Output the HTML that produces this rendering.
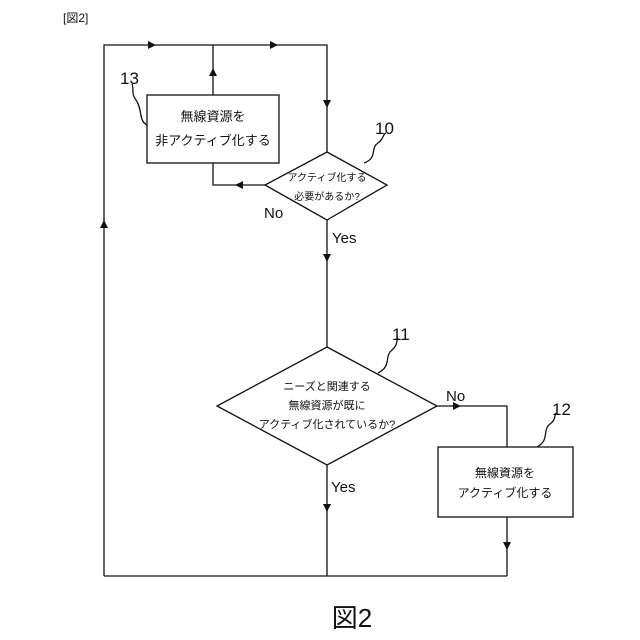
<!DOCTYPE html>
<html><head><meta charset="utf-8"><style>
html,body{margin:0;padding:0;background:#fff;}
svg{display:block;}
text{font-family:"Liberation Sans","Noto Sans CJK JP",sans-serif;fill:#111;}
</style></head><body>
<svg width="640" height="640" viewBox="0 0 640 640" xmlns="http://www.w3.org/2000/svg">
<defs>
<marker id="a" viewBox="0 0 10 10" refX="5" refY="5" markerWidth="9" markerHeight="9" orient="auto" markerUnits="userSpaceOnUse"><path d="M0,0 L10,5 L0,10 z" fill="#111"/></marker>
</defs>
<g stroke="#111" stroke-width="1.3" fill="none">
<!-- outer loop -->
<path d="M104,576 V45 H327 V152"/>
<path d="M104,576 H507"/>
<!-- box13 -->
<rect x="147" y="95" width="132" height="68" fill="#fff"/>
<path d="M213,95 V45"/>
<path d="M213,163 V185 H265"/>
<!-- diamond10 -->
<polygon points="327,152 387,185 327,220 265,185" fill="#fff"/>
<path d="M327,220 V347"/>
<!-- diamond11 -->
<polygon points="327,347 437,406 327,465 217,406" fill="#fff"/>
<path d="M437,406 H507 V447"/>
<path d="M327,465 V576"/>
<!-- box12 -->
<rect x="438" y="447" width="135" height="70" fill="#fff"/>
<path d="M507,517 V576"/>
<!-- leaders -->
<path d="M147,125 C138,120 143,110 136,100 C131,94 134,88 132,84"/>
<path d="M364,163 C378,158 370,148 378,143 C384,139 382,135 386,133"/>
<path d="M378,373 C392,366 384,356 392,350 C398,345 396,341 398,338"/>
<path d="M537,447 C550,440 542,430 550,424 C556,420 554,416 556,413"/>
</g>
<!-- arrowheads -->
<g fill="#111">
<path d="M156,45 l-8,-4 v8 z"/>
<path d="M278,45 l-8,-4 v8 z"/>
<path d="M213,68 l-4,8 h8 z"/>
<path d="M327,108 l-4,-8 h8 z"/>
<path d="M235,185 l8,-4 v8 z"/>
<path d="M327,262 l-4,-8 h8 z"/>
<path d="M461,406 l-8,-4 v8 z"/>
<path d="M327,512 l-4,-8 h8 z"/>
<path d="M507,550 l-4,-8 h8 z"/>
<path d="M104,220 l-4,8 h8 z"/>
</g>
<text x="63" y="22" font-size="12">[図2]</text>
<text x="120" y="84" font-size="17">13</text>
<text x="375" y="134" font-size="17">10</text>
<text x="392" y="340" font-size="17">11</text>
<text x="552" y="415" font-size="17">12</text>
<text x="213" y="121" font-size="13" text-anchor="middle">無線資源を</text>
<text x="213" y="145" font-size="13" text-anchor="middle">非アクティブ化する</text>
<text x="327" y="181" font-size="10" text-anchor="middle">アクティブ化する</text>
<text x="327" y="200" font-size="10" text-anchor="middle">必要があるか?</text>
<text x="327" y="390" font-size="11" text-anchor="middle">ニーズと関連する</text>
<text x="327" y="409" font-size="11" text-anchor="middle">無線資源が既に</text>
<text x="327" y="428" font-size="11" text-anchor="middle">アクティブ化されているか?</text>
<text x="505" y="477" font-size="12" text-anchor="middle">無線資源を</text>
<text x="505" y="497" font-size="12" text-anchor="middle">アクティブ化する</text>
<text x="264" y="218" font-size="15">No</text>
<text x="332" y="243" font-size="15">Yes</text>
<text x="446" y="401" font-size="15">No</text>
<text x="331" y="492" font-size="15">Yes</text>
<text x="352" y="627" font-size="26" text-anchor="middle">図2</text>
</svg>
</body></html>
